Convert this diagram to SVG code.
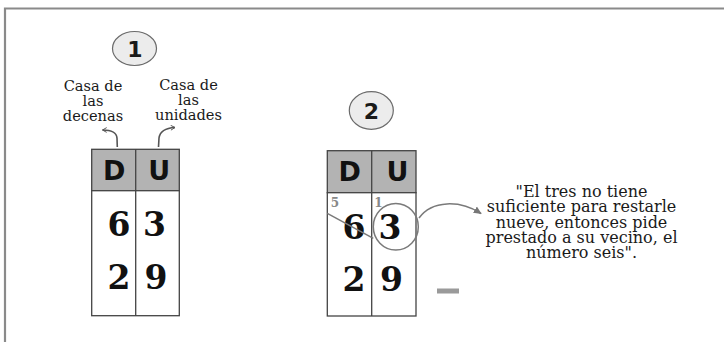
<svg xmlns="http://www.w3.org/2000/svg" width="724" height="342" viewBox="0 0 724 342">
<style>
.frame{fill:none;stroke:#8a8a8a;stroke-width:2.2}
.badge{fill:#ececec;stroke:#6a6a6a;stroke-width:1.2}
.badge-t{font-family:"DejaVu Sans",sans-serif;font-weight:bold;font-size:22px;fill:#1a1a1a;text-anchor:middle}
.lbl{font-family:"DejaVu Serif",serif;font-size:14.6px;fill:#1a1a1a;text-anchor:middle}
.q{font-family:"DejaVu Serif",serif;font-size:16px;fill:#1a1a1a;text-anchor:middle}
.hdr{fill:#b3b3b3;stroke:#444;stroke-width:1.3}
.cell{fill:#fff;stroke:#444;stroke-width:1.3}
.hdr-t{font-family:"DejaVu Sans",sans-serif;font-weight:bold;font-size:27px;fill:#111;text-anchor:middle}
.dig{font-family:"DejaVu Serif",serif;font-weight:bold;font-size:33px;fill:#111;text-anchor:middle}
.small{font-family:"DejaVu Serif",serif;font-weight:bold;font-size:12px;fill:#888;text-anchor:middle}
.conn{fill:none;stroke:#555;stroke-width:1.6}
.gray{fill:none;stroke:#7a7a7a;stroke-width:1.5}
</style>
<defs>
<marker id="head" viewBox="0 0 10 10" refX="8" refY="5" markerWidth="6" markerHeight="6" orient="auto" markerUnits="userSpaceOnUse">
<path d="M1,1 L8,5 L1,9" fill="none" stroke="#555" stroke-width="1.6"/>
</marker>
<marker id="headg" viewBox="0 0 10 10" refX="8" refY="5" markerWidth="9" markerHeight="9" orient="auto" markerUnits="userSpaceOnUse">
<path d="M0,1 L9,5 L0,9 Z" fill="#777"/>
</marker>
</defs>
<rect width="724" height="342" fill="#fff"/>
<path class="frame" d="M5,360 L5,8.5 L740,8.5"/>

<g id="badge1">
<ellipse class="badge" cx="134.5" cy="48.5" rx="22" ry="17"/>
<text class="badge-t" x="135" y="56.5">1</text>
</g>
<g id="label-decenas">
<text class="lbl" x="93" y="91">Casa de</text>
<text class="lbl" x="93" y="105.5">las</text>
<text class="lbl" x="93" y="120.5">decenas</text>
</g>
<g id="label-unidades">
<text class="lbl" x="188.5" y="90">Casa de</text>
<text class="lbl" x="188.5" y="104.5">las</text>
<text class="lbl" x="188.5" y="119.5">unidades</text>
</g>

<g id="table1">
<rect class="hdr" x="91.7" y="149.3" width="87.6" height="41.4"/>
<rect class="cell" x="91.7" y="190.7" width="87.6" height="125"/>
<line x1="135.7" y1="149.3" x2="135.7" y2="315.7" stroke="#444" stroke-width="1.3"/>
<text class="hdr-t" x="114.2" y="180">D</text>
<text class="hdr-t" x="159.2" y="180">U</text>
<text class="dig" x="119" y="235.5">6</text>
<text class="dig" x="154.5" y="235.5">3</text>
<text class="dig" x="119" y="288.5">2</text>
<text class="dig" x="156" y="288.5">9</text>
</g>

<g id="badge2">
<ellipse class="badge" cx="371.3" cy="110.5" rx="22" ry="18.8"/>
<text class="badge-t" x="371.5" y="118.5">2</text>
</g>

<g id="table2">
<rect class="hdr" x="327.3" y="150.7" width="88.7" height="42"/>
<rect class="cell" x="327.3" y="192.7" width="88.7" height="123.3"/>
<line x1="371.7" y1="150.7" x2="371.7" y2="316" stroke="#444" stroke-width="1.3"/>
<text class="hdr-t" x="349.8" y="181">D</text>
<text class="hdr-t" x="397.5" y="181">U</text>
<text class="small" x="335" y="206.5">5</text>
<text class="small" x="378.5" y="206.5">1</text>
<text class="dig" x="354" y="238.5">6</text>
<text class="dig" x="390" y="238.5">3</text>
<text class="dig" x="354" y="291">2</text>
<text class="dig" x="391.5" y="291">9</text>
<line class="gray" x1="327.3" y1="213.3" x2="373.3" y2="238.3"/>
<ellipse class="gray" cx="395.8" cy="226.7" rx="22.5" ry="23.3"/>
</g>

<g id="minus">
<rect x="437" y="288.5" width="22" height="5" fill="#9a9a9a"/>
</g>

<g id="quote">
<text class="q" x="581.5" y="196.5">"El tres no tiene</text>
<text class="q" x="581.5" y="212">suficiente para restarle</text>
<text class="q" x="581.5" y="227.5">nueve, entonces pide</text>
<text class="q" x="581.5" y="243">prestado a su vecino, el</text>
<text class="q" x="581.5" y="258">número seis".</text>
</g>

<g id="connectors">
<path class="conn" marker-end="url(#head)" d="M117.3,147 L117,138 C116.5,132 111,130 102.5,130"/>
<path class="conn" marker-end="url(#head)" d="M158.5,147 L159,138 C160,131 166,128 175,127.5"/>
<path class="gray" marker-end="url(#headg)" d="M419,218 C432,200 460,200 481,213.5"/>
</g>
</svg>
